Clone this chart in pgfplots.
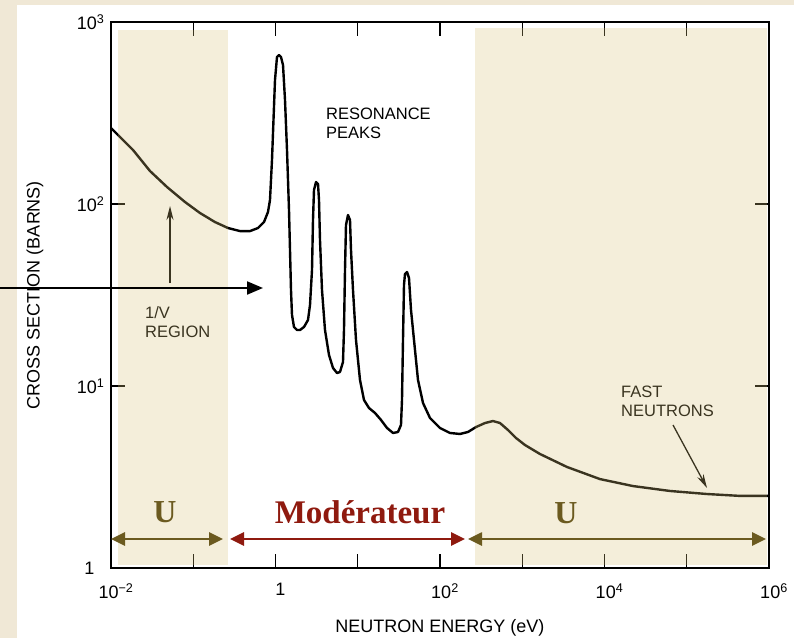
\documentclass[border=0pt]{standalone}
\usepackage{fontspec}
\setmainfont{Liberation Sans}
\newfontfamily\serifbf{Liberation Serif}
\usepackage{pgfplots}
\pgfplotsset{compat=1.18}
\usetikzlibrary{arrows.meta}
\definecolor{parch}{HTML}{F0E8D6}
\definecolor{tanshade}{HTML}{D7C177}
\definecolor{olive}{HTML}{6B5A1F}
\definecolor{dred}{HTML}{8F1A0F}
\begin{document}
\begin{tikzpicture}[x=1pt,y=1pt]
\useasboundingbox (0,0) rectangle (794,638);
\fill[parch] (0,0) rectangle (794,638);
\fill[white] (17,0) rectangle (794,633);
\begin{axis}[
  at={(111pt,70pt)}, anchor=south west,
  scale only axis, width=658pt, height=546pt,
  xmode=log, ymode=log,
  xmin=1e-2, xmax=1e6, ymin=1, ymax=1e3,
  axis line style={line width=2.6pt},
  tick align=inside, major tick length=14pt,
  tick style={line width=1.1pt, black},
  xminorticks=false, yminorticks=false,
  xtick={1e-2,1e-1,1,1e1,1e2,1e3,1e4,1e5,1e6},
  xticklabels={10\textsuperscript{−2},,1,,10\textsuperscript{2},,10\textsuperscript{4},,10\textsuperscript{6}},
  ytick={1,10,100,1000},
  yticklabels={\raisebox{-6pt}{1\hspace{10pt}},10\textsuperscript{1},10\textsuperscript{2},10\textsuperscript{3}},
  ticklabel style={font=\fontsize{18}{20}\selectfont},
  xticklabel style={yshift=-12pt, xshift=5pt},
  yticklabel style={xshift=-3pt},
  xlabel={NEUTRON ENERGY (eV)},
  ylabel={CROSS SECTION (BARNS)},
  label style={font=\fontsize{18}{20}\selectfont},
  xlabel style={at={(axis description cs:0.5,-0.1099)}, anchor=center},
  ylabel style={at={(axis description cs:-0.1155,0.5)}, anchor=center},
]
\addplot[black, line width=2.4pt, line join=round] table {
x y
0.01 261.6
0.01852 198.1
0.02980 151.8
0.04797 124.0
0.07936 102.6
0.1208 89.2
0.1838 79.6
0.2646 73.8
0.3701 71.0
0.4898 71.0
0.6127 73.8
0.7247 79.6
0.8104 90.4
0.8572 105.2
0.9065 174.5
0.9324 245.5
0.9861 480.1
1.0428 642.2
1.1030 658.6
1.1666 642.2
1.2339 580.3
1.3048 372.7
1.3799 198.1
1.4592 92.7
1.5008 55.9
1.5432 33.7
1.5871 24.55
1.6785 21.10
1.8255 20.31
1.9861 20.31
2.2209 21.10
2.4840 23.05
2.6273 27.87
2.7784 43.39
2.8571 81.7
2.9382 119.4
3.1075 132.1
3.2866 128.8
3.3799 105.2
3.4754 63.4
3.6753 33.7
3.9977 20.31
4.4727 14.80
5.0025 12.56
5.5939 11.79
6.0828 11.94
6.6161 13.55
6.8034 20.31
6.9984 43.39
7.1963 76.7
7.6103 87.0
8.0493 81.7
8.2774 55.9
8.7537 33.7
9.5213 17.89
10.65 10.79
11.91 8.38
13.70 7.57
16.21 7.11
19.17 6.51
22.68 5.88
26.83 5.52
30.86 5.59
33.56 6.11
34.51 8.38
35.49 17.89
36.50 35.88
37.53 41.24
39.71 42.30
41.99 39.21
44.41 26.16
48.30 17.89
54.02 10.79
62.14 8.07
75.57 6.67
100 5.88
132.3 5.52
175.1 5.45
219.0 5.59
274.0 5.95
352.4 6.26
441.0 6.42
536.3 6.26
670.9 5.73
839.5 5.18
1080 4.74
1644 4.23
3500 3.59
8816 3.08
22210 2.82
62570 2.65
176300 2.55
444000 2.49
1000000 2.49
};
\end{axis}
% annotations under the shading
\node[anchor=north west, align=left, inner sep=0pt, font=\fontsize{16.5}{19}\selectfont] at (326,530) {RESONANCE\\PEAKS};
\node[anchor=north west, align=left, inner sep=0pt, font=\fontsize{16.5}{19}\selectfont] at (145,332) {1/V\\REGION};
\node[anchor=north west, align=left, inner sep=0pt, font=\fontsize{16.5}{19}\selectfont] at (621,252) {FAST\\NEUTRONS};
\draw[line width=1.3pt, -{Stealth[length=14pt,width=7pt]}] (170,355) -- (170,432);
\draw[line width=1.3pt, -{Stealth[length=14pt,width=7pt]}] (673,213) -- (707,150);
% shaded regions
\fill[tanshade, fill opacity=0.27] (118,73) rectangle (228,608);
\fill[tanshade, fill opacity=0.27] (475,73) rectangle (767,610);
% overlay arrows and labels
\draw[line width=2pt, -{Triangle[length=16pt,width=13pt]}] (0,350) -- (263,350);
\draw[olive, line width=2.6pt, {Triangle[length=14pt,width=13pt]}-{Triangle[length=14pt,width=13pt]}] (111,99) -- (223,99);
\draw[dred, line width=2.6pt, {Triangle[length=14pt,width=13pt]}-{Triangle[length=14pt,width=13pt]}] (230,99) -- (465,99);
\draw[olive, line width=2.6pt, {Triangle[length=14pt,width=13pt]}-{Triangle[length=14pt,width=13pt]}] (468,99) -- (766,99);
\node[olive, font=\serifbf\bfseries\fontsize{32}{36}\selectfont] at (165,126) {U};
\node[dred, font=\serifbf\bfseries\fontsize{33}{36}\selectfont] at (360,126) {Modérateur};
\node[olive, font=\serifbf\bfseries\fontsize{32}{36}\selectfont] at (566,125) {U};
\end{tikzpicture}
\end{document}
